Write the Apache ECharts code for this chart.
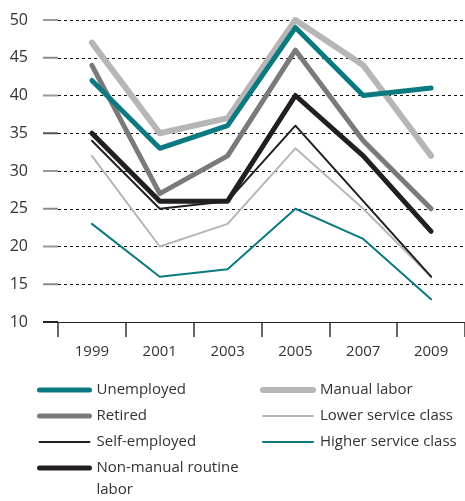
<!DOCTYPE html>
<html><head><meta charset="utf-8">
<script src="https://cdn.jsdelivr.net/npm/echarts@6/dist/echarts.min.js"></script>
<style>html,body{margin:0;padding:0;background:#fff}#c{width:465px;height:501px}</style>
</head><body><div id="c"></div>
<script>
const years = ['1999','2001','2003','2005','2007','2009'];
const unemployed = [42,33,36,49,40,41];
const manualLabor = [47,35,37,50,44,32];
const retired = [44,27,32,46,34,25];
const lowerService = [32,20,23,33,25,16];
const selfEmployed = [34,25,26,36,26,16];
const higherService = [23,16,17,25,21,13];
const nonManual = [35,26,26,40,32,22];
const yTickValues = [10,15,20,25,30,35,40,45,50];
const yTicks = {min:10, max:50, interval:5};

const TEAL = '#0a7a80', LGRAY = '#b6b6b8', MGRAY = '#7a7a7c', BLACK = '#231f20';
const FONT = 'Open Sans';
const tickColors = ['#222','#8c8c8c','#9a9a9a','#8c8c8c','#9a9a9a','#555','#9a9a9a','#8c8c8c','#9a9a9a'];

function s(name, data, color, width, z){
  return {name, type:'line', data, symbol:'none', z,
    lineStyle:{color, width, cap:'round', join:'round'}, itemStyle:{color}};
}
const series = [
  s('Lower service class', lowerService, LGRAY, 2, 2),
  s('Higher service class', higherService, TEAL, 2, 2),
  s('Manual labor', manualLabor, LGRAY, 6, 3),
  s('Retired', retired, MGRAY, 5, 4),
  s('Non-manual routine labor', nonManual, BLACK, 5, 5),
  s('Self-employed', selfEmployed, BLACK, 2, 6),
  s('Unemployed', unemployed, TEAL, 5, 7),
  {name:'_yticks', type:'custom', clip:false, silent:true, z:1,
    data: yTickValues.map(v => [0, v]),
    encode:{x:0, y:1},
    renderItem: (params, api) => {
      const cs = params.coordSys;
      const y = api.coord([0, api.value(1)])[1];
      return {type:'line', shape:{x1:cs.x-15, y1:y, x2:cs.x, y2:y},
        style:{stroke:tickColors[params.dataIndex % tickColors.length], lineWidth:2}};
    }}
];
const legendCommon = {orient:'vertical', top:379, height:300, padding:0, itemWidth:50, itemHeight:14, itemGap:4,
  itemStyle:{opacity:0}, lineStyle:{width:'inherit', cap:'round'},
  textStyle:{fontFamily:FONT, fontSize:15, color:'#333', padding:[0,0,0,2], lineHeight:22}, selectedMode:false};
const chart = echarts.init(document.getElementById('c'));
chart.setOption({
  animation:false,
  grid:{left:58, right:-10, top:20, bottom:179, containLabel:false},
  xAxis:{type:'category', data:years, boundaryGap:true,
    axisLine:{show:true, lineStyle:{color:'#222', width:1}},
    axisTick:{show:true, length:15, lineStyle:{color:'#333', width:1.5}},
    axisLabel:{fontFamily:FONT, fontSize:15, color:'#333', margin:22}},
  yAxis:{type:'value', min:yTicks.min, max:yTicks.max, interval:yTicks.interval,
    axisLine:{show:false}, axisTick:{show:false},
    axisLabel:{fontFamily:FONT, fontSize:16, color:'#333', margin:30},
    splitLine:{lineStyle:{color:'#111', width:1, type:[3,3]}}},
  legend:[
    Object.assign({}, legendCommon, {left:37, data:['Unemployed','Retired','Self-employed']}),
    Object.assign({}, legendCommon, {left:37, top:435, data:['Non-manual routine labor'],
      formatter: () => '\u00a0\nNon-manual routine\nlabor'}),
    Object.assign({}, legendCommon, {left:260, data:['Manual labor','Lower service class','Higher service class']})
  ],
  series
});
</script></body></html>
